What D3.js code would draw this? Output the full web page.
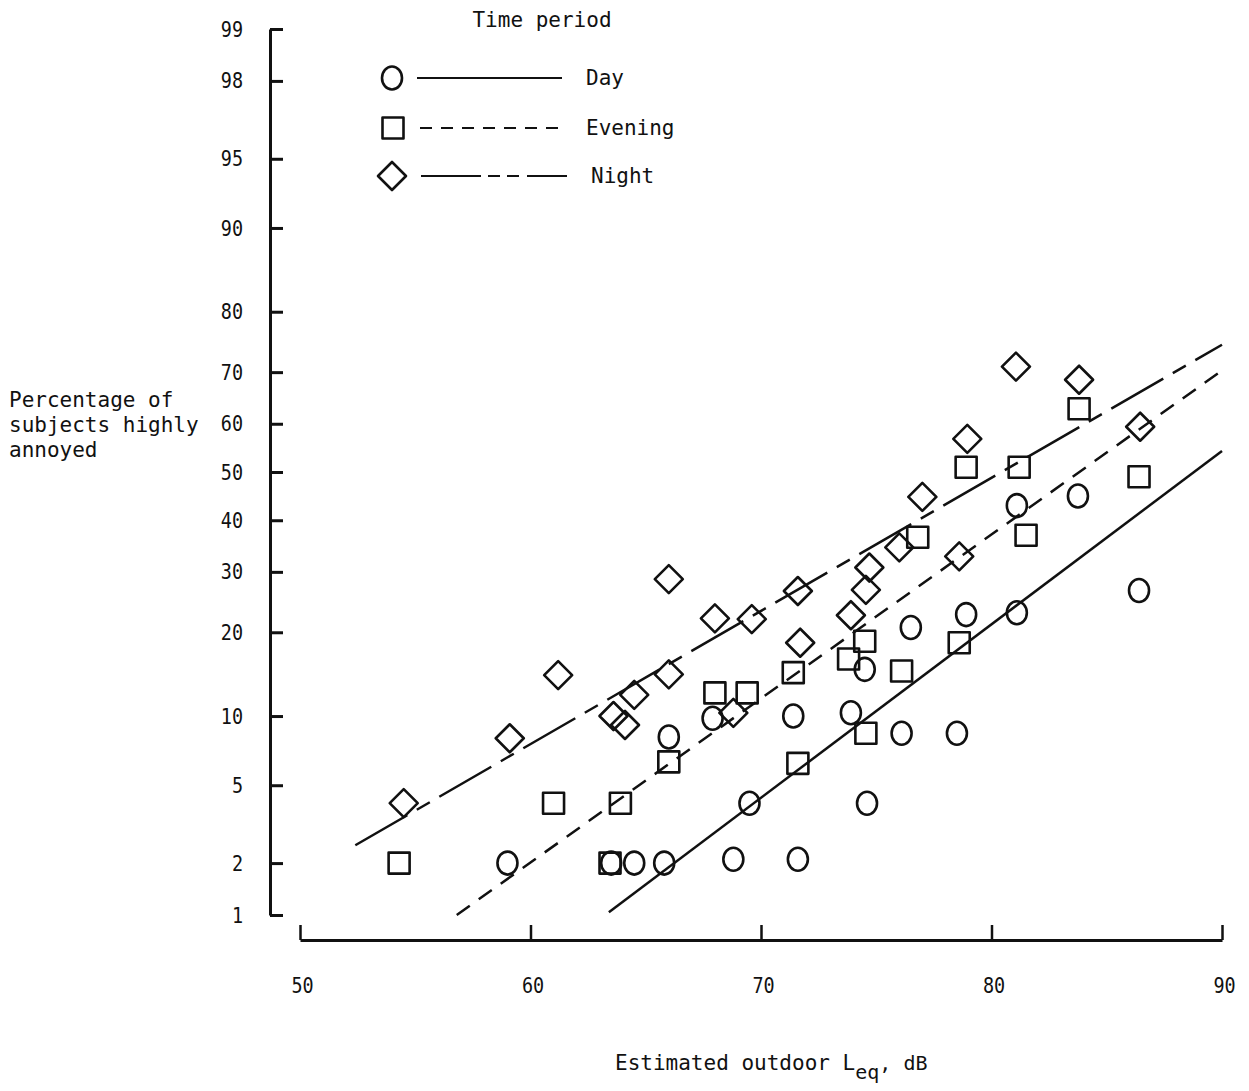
<!DOCTYPE html>
<html>
<head>
<meta charset="utf-8">
<script src="https://cdn.jsdelivr.net/npm/d3@7"></script>
<style>
  html, body { margin: 0; padding: 0; background: #fff; }
  svg text { font-family: "DejaVu Sans Mono", "Liberation Mono", monospace; fill: #111; }
</style>
</head>
<body>
<svg id="chart" width="1249" height="1091"></svg>
<script>
// ---------------- data ----------------
const xTickValues = [50, 60, 70, 80, 90];
const yTickValues = [1, 2, 5, 10, 20, 30, 40, 50, 60, 70, 80, 90, 95, 98, 99];

const dayX = [59.0, 63.5, 64.5, 65.8, 68.8, 71.6, 66.0, 67.9, 71.4, 73.9, 69.5, 74.6, 74.5, 76.5, 76.1, 78.5, 78.9, 81.1, 81.1, 83.75, 86.4];
const dayY = [2, 2, 2, 2, 2.1, 2.1, 8.2, 9.8, 10, 10.3, 4.1, 4.1, 15, 20.7, 8.5, 8.5, 22.7, 23, 43, 45, 26.7];

const eveningX = [54.3, 61.0, 63.9, 63.45, 66.0, 68.0, 69.4, 71.4, 71.6, 73.8, 74.5, 74.55, 76.1, 76.8, 78.6, 78.9, 81.2, 81.5, 83.8, 86.4];
const eveningY = [2, 4.1, 4.1, 2, 6.4, 12.3, 12.3, 14.6, 6.3, 16.3, 18.7, 8.5, 14.8, 36.6, 18.5, 51, 51, 37, 63, 49];

const nightX = [54.5, 59.1, 61.2, 63.6, 64.1, 64.5, 66.0, 66.0, 68.0, 68.8, 69.6, 71.6, 71.7, 73.9, 74.55, 74.7, 76.0, 77.0, 78.6, 78.95, 81.06, 83.8, 86.45];
const nightY = [4.1, 8.1, 14.3, 10, 9.2, 12.1, 28.7, 14.4, 22.1, 10.3, 22, 26.6, 18.5, 22.6, 26.8, 30.8, 34.6, 44.8, 32.9, 56.9, 71, 68.6, 59.4];

// fitted lines (end points)
const dayLineX = [63.4, 90];
const dayLineY = [1.04, 54.4];
const eveningLineX = [56.8, 90];
const eveningLineY = [1.0, 70.3];
const nightLineX = [52.4, 90];
const nightLineY = [2.5, 74.8];

const legendTitle = "Time period";
const legendLabels = ["Day", "Evening", "Night"];

// ---------------- helpers ----------------
function probit(p) {
  const a=[-3.969683028665376e+01,2.209460984245205e+02,-2.759285104469687e+02,1.383577518672690e+02,-3.066479806614716e+01,2.506628277459239e+00];
  const b=[-5.447609879822406e+01,1.615858368580409e+02,-1.556989798598866e+02,6.680131188771972e+01,-1.328068155288572e+01];
  const c=[-7.784894002430293e-03,-3.223964580411365e-01,-2.400758277161838e+00,-2.549732539343734e+00,4.374664141464968e+00,2.938163982698783e+00];
  const d=[7.784695709041462e-03,3.224671290700398e-01,2.445134137142996e+00,3.754408661907416e+00];
  const pl = 0.02425, ph = 1 - pl;
  if (p < pl) { const q = Math.sqrt(-2*Math.log(p)); return (((((c[0]*q+c[1])*q+c[2])*q+c[3])*q+c[4])*q+c[5])/((((d[0]*q+d[1])*q+d[2])*q+d[3])*q+1); }
  if (p <= ph) { const q = p-0.5, r = q*q; return (((((a[0]*r+a[1])*r+a[2])*r+a[3])*r+a[4])*r+a[5])*q/(((((b[0]*r+b[1])*r+b[2])*r+b[3])*r+b[4])*r+1); }
  const q = Math.sqrt(-2*Math.log(1-p)); return -(((((c[0]*q+c[1])*q+c[2])*q+c[3])*q+c[4])*q+c[5])/((((d[0]*q+d[1])*q+d[2])*q+d[3])*q+1);
}
const z = pct => probit(pct / 100);

// ---------------- scales ----------------
const svg = d3.select("#chart");
const x = d3.scaleLinear().domain([50, 90]).range([300, 1222]);
const yz = d3.scaleLinear().domain([z(1), z(99)]).range([915, 29]);
const y = pct => yz(z(pct));

const INK = "#111";
const SX = 0.84; // horizontal condensing of tick label glyphs

// ---------------- axes ----------------
const xAxis = d3.axisBottom(x)
  .tickValues(xTickValues)
  .tickSize(-15)
  .tickSizeOuter(0)
  .tickPadding(37)
  .tickFormat(d3.format("d"));
const gx = svg.append("g").attr("transform", "translate(0,940)").call(xAxis);
gx.select(".domain").attr("stroke", INK).attr("stroke-width", 3);
gx.selectAll(".tick line").attr("stroke", INK).attr("stroke-width", 2.5);
gx.selectAll(".tick text")
  .attr("font-size", 22).attr("fill", INK)
  .attr("font-family", "DejaVu Sans Mono")
  .attr("x", 2 / SX)
  .attr("transform", `scale(${SX},1)`);

const yAxis = d3.axisLeft(yz)
  .tickValues(yTickValues.map(z))
  .tickSize(-13)
  .tickSizeOuter(0)
  .tickPadding(27)
  .tickFormat((d, i) => String(yTickValues[i]));
const gy = svg.append("g").attr("transform", "translate(270,0)").call(yAxis);
gy.select(".domain").attr("stroke", INK).attr("stroke-width", 3);
gy.selectAll(".tick line").attr("stroke", INK).attr("stroke-width", 3);
gy.selectAll(".tick text")
  .attr("font-size", 22).attr("fill", INK)
  .attr("font-family", "DejaVu Sans Mono")
  .attr("x", -27 / SX)
  .attr("transform", `scale(${SX},1)`);

// ---------------- fitted lines ----------------
const line = d3.line().x(d => x(d[0])).y(d => y(d[1]));
const fits = [
  { xs: dayLineX, ys: dayLineY, dash: null },
  { xs: eveningLineX, ys: eveningLineY, dash: "16,11" },
  { xs: nightLineX, ys: nightLineY, dash: "60,11,15,11" }
];
fits.forEach(f => {
  svg.append("path")
    .datum(d3.zip(f.xs, f.ys))
    .attr("d", line)
    .attr("fill", "none")
    .attr("stroke", INK)
    .attr("stroke-width", 2.5)
    .attr("stroke-dasharray", f.dash);
});

// ---------------- markers ----------------
const circlePath = (cx, cy) => `M${cx-10},${cy} a10,11.5 0 1,0 20,0 a10,11.5 0 1,0 -20,0`;
const squarePath = (cx, cy) => `M${cx-10.5},${cy-10.5} h21 v21 h-21 Z`;
const diamondPath = (cx, cy) => `M${cx},${cy-14} L${cx+14},${cy} L${cx},${cy+14} L${cx-14},${cy} Z`;

function drawMarkers(xs, ys, shape, cls) {
  svg.append("g").attr("class", cls)
    .selectAll("path")
    .data(d3.zip(xs, ys))
    .join("path")
    .attr("d", d => shape(x(d[0]), y(d[1])))
    .attr("fill", "none")
    .attr("stroke", INK)
    .attr("stroke-width", 2.6)
    .attr("stroke-linejoin", "round");
}
drawMarkers(dayX, dayY, circlePath, "day");
drawMarkers(eveningX, eveningY, squarePath, "evening");
drawMarkers(nightX, nightY, diamondPath, "night");

// ---------------- legend ----------------
const lg = svg.append("g").attr("class", "legend");
lg.append("text").attr("x", 542).attr("y", 27).attr("text-anchor", "middle")
  .attr("font-size", 21).text(legendTitle);

const legendRows = [
  { shape: circlePath, mx: 392, my: 78, x1: 417, x2: 562, dash: null, tx: 586 },
  { shape: squarePath, mx: 393, my: 128, x1: 420, x2: 567, dash: "12,9", tx: 586 },
  { shape: diamondPath, mx: 392, my: 176, x1: 421, x2: 567, dash: "60,7,12,7,12,8,50", tx: 591 }
];
legendRows.forEach((r, i) => {
  lg.append("path").attr("d", r.shape(r.mx, r.my))
    .attr("fill", "none").attr("stroke", INK).attr("stroke-width", 2.6)
    .attr("stroke-linejoin", "round");
  lg.append("line").attr("x1", r.x1).attr("x2", r.x2).attr("y1", r.my).attr("y2", r.my)
    .attr("stroke", INK).attr("stroke-width", 2.2).attr("stroke-dasharray", r.dash);
  lg.append("text").attr("x", r.tx).attr("y", r.my + 7).attr("font-size", 21)
    .text(legendLabels[i]);
});

// ---------------- axis titles ----------------
const yTitle = svg.append("text").attr("x", 9).attr("y", 407).attr("font-size", 21);
["Percentage of", "subjects highly", "annoyed"].forEach((t, i) => {
  yTitle.append("tspan").attr("x", 9).attr("dy", i === 0 ? 0 : 25).text(t);
});

const xTitle = svg.append("text").attr("x", 615).attr("y", 1070).attr("font-size", 21);
xTitle.append("tspan").text("Estimated outdoor L");
xTitle.append("tspan").attr("dy", 9).attr("font-size", 20).text("eq");
xTitle.append("tspan").attr("dy", -9).attr("font-size", 20).text(",\u00a0dB");
</script>
</body>
</html>
